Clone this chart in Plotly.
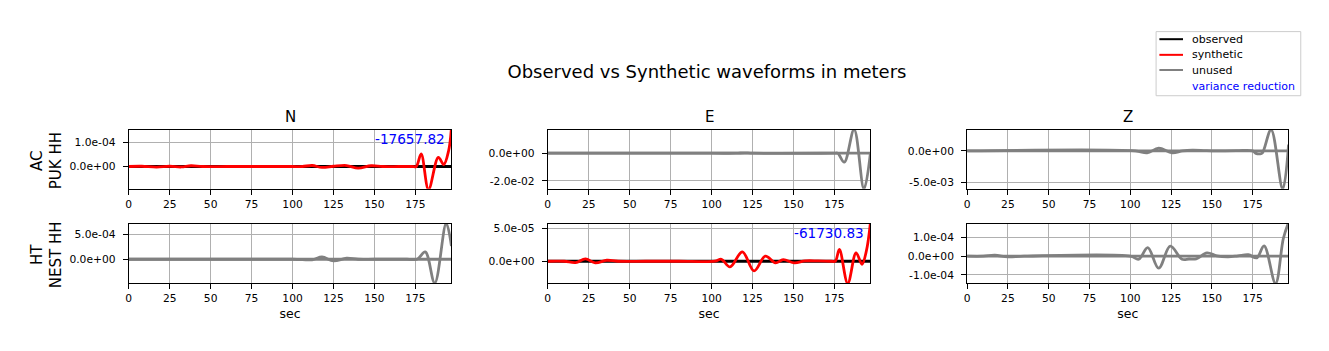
import plotly.graph_objects as go
from plotly.subplots import make_subplots

W, H = 1329, 351
def px(x):
    return x / W
def py(y):
    return 1 - y / H

# ---------------- data ----------------
components = ["N", "E", "Z"]
stations = ["AC<br>PUK HH", "HT<br>NEST HH"]
var_reduction = {("AC<br>PUK HH", "N"): "-17657.82", ("HT<br>NEST HH", "E"): "-61730.83"}
used = {("AC<br>PUK HH", "N"): True, ("AC<br>PUK HH", "E"): False, ("AC<br>PUK HH", "Z"): False,
        ("HT<br>NEST HH", "N"): False, ("HT<br>NEST HH", "E"): True, ("HT<br>NEST HH", "Z"): False}

obs_t = [0, 50, 100, 150, 197]
obs_v = [0.0, 0.0, 0.0, 0.0, 0.0]

# AC PUK HH - N  (units 1e-4 m)
t_puk_n = [0, 8, 17, 25, 32, 38, 45, 60, 80, 100, 106, 112, 118, 125, 133, 140, 148, 155, 165, 173,
           175.5, 178.5, 183, 189, 192.3, 195.3, 197]
v_puk_n = [0, 0.01, -0.03, 0.01, -0.02, 0.03, 0, 0, 0, 0, 0, 0.04, -0.04, 0.01, 0.04, -0.07, 0.03, 0, 0, 0,
           0, 0.52, -0.95, 0.38, 0.08, 0.66, 1.6]
# AC PUK HH - E  (units 1e-2 m)
t_puk_e = [0, 100, 115, 120, 125, 175, 177, 181, 187, 193, 197]
v_puk_e = [0, 0, 0, 0.03, 0, 0, 0, -0.65, 1.72, -2.6, 0.05]
# AC PUK HH - Z  (units 1e-3 m)
t_puk_z = [0, 103, 110.3, 117.4, 125.6, 132, 138, 145, 150, 165, 175, 177, 179.5, 181, 186.3, 193.4, 197]
v_puk_z = [0, 0, -0.32, 0.42, -0.3, 0, 0.1, 0.05, 0, 0.03, 0, -0.4, -0.47, -0.3, 3.35, -6.05, 1.0]
# HT NEST HH - N  (units 1e-4 m)
t_nest_n = [0, 100, 112, 118, 125, 133, 140, 150, 170, 176, 181, 186.8, 193.8, 197]
v_nest_n = [0, 0, -0.1, 0.46, -0.33, 0.2, 0, 0, 0, 0, 1.45, -4.7, 7.1, 2.6]
# HT NEST HH - E  (units 1e-5 m)
t_nest_e = [0, 10, 17, 23, 29, 36, 43, 60, 80, 102, 106, 111.2, 118.8, 125.9, 132.8, 139, 143.7, 150.6,
            157, 165, 173, 175.5, 178, 183.1, 188.2, 191.8, 194.5, 197]
v_nest_e = [0, 0, -0.2, 0.36, -0.25, 0.15, 0, 0, 0, 0, 0.3, -0.87, 1.43, -1.48, 0.77, -0.25, 0.25, -0.25,
            0.05, 0.05, 0, 0, 1.8, -3.4, 1.28, -0.46, 1.6, 6.0]
# HT NEST HH - Z  (units 1e-4 m)
t_nest_z = [0, 10, 17, 25, 35, 100, 105.2, 110.7, 117.4, 124.5, 131.7, 136, 140.4, 147, 153, 160, 166,
            172.4, 177.5, 182, 189, 193.8, 197]
v_nest_z = [0, 0, 0.05, -0.04, 0, 0, -0.16, 0.46, -0.64, 0.53, -0.16, -0.15, -0.14, 0.18, 0.02, -0.03, 0.02,
            0.08, -0.09, 0.55, -1.45, 0.94, 1.8]

series = {
    ("AC<br>PUK HH", "N"): (t_puk_n, v_puk_n, 1e-4),
    ("AC<br>PUK HH", "E"): (t_puk_e, v_puk_e, 1e-2),
    ("AC<br>PUK HH", "Z"): (t_puk_z, v_puk_z, 1e-3),
    ("HT<br>NEST HH", "N"): (t_nest_n, v_nest_n, 1e-4),
    ("HT<br>NEST HH", "E"): (t_nest_e, v_nest_e, 1e-5),
    ("HT<br>NEST HH", "Z"): (t_nest_z, v_nest_z, 1e-4),
}

y_ranges = {
    ("AC<br>PUK HH", "N"): [-0.92e-4, 1.51e-4],
    ("AC<br>PUK HH", "E"): [-2.58e-2, 1.69e-2],
    ("AC<br>PUK HH", "Z"): [-6.0e-3, 3.32e-3],
    ("HT<br>NEST HH", "N"): [-4.68e-4, 7.05e-4],
    ("HT<br>NEST HH", "E"): [-3.32e-5, 5.76e-5],
    ("HT<br>NEST HH", "Z"): [-1.42e-4, 1.73e-4],
}
y_tickvals = {
    ("AC<br>PUK HH", "N"): [0, 1e-4],
    ("AC<br>PUK HH", "E"): [-2e-2, 0],
    ("AC<br>PUK HH", "Z"): [-5e-3, 0],
    ("HT<br>NEST HH", "N"): [0, 5e-4],
    ("HT<br>NEST HH", "E"): [0, 5e-5],
    ("HT<br>NEST HH", "Z"): [-1e-4, 0, 1e-4],
}
y_ticktext = {
    ("AC<br>PUK HH", "N"): ["0.0e+00", "1.0e-04"],
    ("AC<br>PUK HH", "E"): ["-2.0e-02", "0.0e+00"],
    ("AC<br>PUK HH", "Z"): ["-5.0e-03", "0.0e+00"],
    ("HT<br>NEST HH", "N"): ["0.0e+00", "5.0e-04"],
    ("HT<br>NEST HH", "E"): ["0.0e+00", "5.0e-05"],
    ("HT<br>NEST HH", "Z"): ["-1.0e-04", "0.0e+00", "1.0e-04"],
}
x_tickvals = [0, 25, 50, 75, 100, 125, 150, 175]
x_range = [0, 196.9]

# ---------------- layout constants ----------------
FONT = "DejaVu Sans"
col_px = [(126, 449.3), (546, 869.3), (966.3, 1288.3)]
row_px = [(129.3, 188.3), (223.3, 282.7)]
OBS_C, SYN_C, UNUSED_C, VR_C = "#000000", "#ff0000", "#808080", "#0000ff"

fig = make_subplots(rows=2, cols=3)

for r, st in enumerate(stations):
    for c, comp in enumerate(components):
        key = (st, comp)
        t, v, scale = series[key]
        is_used = used[key]
        fig.add_trace(go.Scatter(x=obs_t, y=obs_v, mode="lines",
                                 line=dict(color=OBS_C if is_used else UNUSED_C, width=2.8),
                                 showlegend=False, hoverinfo="skip"), row=r + 1, col=c + 1)
        fig.add_trace(go.Scatter(x=t, y=[val * scale for val in v], mode="lines",
                                 line=dict(color=SYN_C if is_used else UNUSED_C, width=2.8,
                                           shape="spline", smoothing=1.0),
                                 showlegend=False, hoverinfo="skip"), row=r + 1, col=c + 1)
        idx = r * 3 + c + 1
        xa = "xaxis" if idx == 1 else f"xaxis{idx}"
        ya = "yaxis" if idx == 1 else f"yaxis{idx}"
        x0, x1 = col_px[c]
        y0, y1 = row_px[r]
        fig.layout[xa].update(
            domain=[px(x0), px(x1)], range=x_range, tickvals=x_tickvals,
            ticktext=[str(v_) for v_ in x_tickvals],
            showgrid=True, gridcolor="#b0b0b0", gridwidth=0.8, zeroline=False,
            showline=True, linecolor="black", linewidth=1, mirror=True,
            ticks="outside", ticklen=5, tickwidth=1, tickcolor="black",
            tickfont=dict(family=FONT, size=10.7, color="black"),
        )
        if r == 1:
            fig.layout[xa].title = dict(text="sec", font=dict(family=FONT, size=12.5, color="black"), standoff=5)
        fig.layout[ya].update(
            domain=[py(y1), py(y0)], range=y_ranges[key], tickvals=y_tickvals[key],
            ticktext=y_ticktext[key],
            showgrid=True, gridcolor="#b0b0b0", gridwidth=0.8, zeroline=False,
            showline=True, linecolor="black", linewidth=1, mirror=True,
            ticks="outside", ticklen=5, tickwidth=1, tickcolor="black", ticklabelstandoff=5,
            tickfont=dict(family=FONT, size=10.7, color="black"),
        )
        if key in var_reduction:
            xr = "x" if idx == 1 else f"x{idx}"
            yr = "y" if idx == 1 else f"y{idx}"
            fig.add_annotation(x=1, y=1, xref=f"{xr} domain", yref=f"{yr} domain",
                               text=var_reduction[key], showarrow=False,
                               xanchor="right", yanchor="top", xshift=-4, yshift=1,
                               font=dict(family=FONT, size=13.6, color=VR_C))

# column titles
for c, comp in enumerate(components):
    x0, x1 = col_px[c]
    fig.add_annotation(x=px((x0 + x1) / 2), y=py(116), xref="paper", yref="paper",
                       text=comp, showarrow=False, xanchor="center", yanchor="middle",
                       font=dict(family=FONT, size=15, color="black"))
# row labels
for r, st in enumerate(stations):
    y0, y1 = row_px[r]
    fig.add_annotation(x=px(44), y=py((y0 + y1) / 2 + 1), xref="paper", yref="paper",
                       text=st, showarrow=False, textangle=-90, xanchor="center", yanchor="middle",
                       font=dict(family=FONT, size=15, color="black"))

# legend (drawn)
fig.add_shape(type="rect", xref="paper", yref="paper",
              x0=px(1155.7), x1=px(1300.7), y0=py(95), y1=py(30.7),
              line=dict(color="#cccccc", width=1), fillcolor="white")
legend_items = [("observed", OBS_C, 38.3), ("synthetic", SYN_C, 54), ("unused", UNUSED_C, 69.2)]
for label, col, yy in legend_items:
    fig.add_shape(type="line", xref="paper", yref="paper", x0=px(1159), x1=px(1182.7),
                  y0=py(yy), y1=py(yy), line=dict(color=col, width=2))
    fig.add_annotation(x=px(1190), y=py(yy), xref="paper", yref="paper", text=label,
                       showarrow=False, xanchor="left", yanchor="middle",
                       font=dict(family=FONT, size=11, color="black"))
fig.add_annotation(x=px(1190), y=py(85.3), xref="paper", yref="paper", text="variance reduction",
                   showarrow=False, xanchor="left", yanchor="middle",
                   font=dict(family=FONT, size=11, color=VR_C))

fig.update_layout(
    width=W, height=H, margin=dict(l=0, r=0, t=0, b=0),
    paper_bgcolor="white", plot_bgcolor="white",
    title=dict(text="Observed vs Synthetic waveforms in meters", x=px(707), xanchor="center",
               y=py(72), yanchor="middle", font=dict(family=FONT, size=18, color="black")),
    showlegend=False,
)

fig.write_html("out.html")
